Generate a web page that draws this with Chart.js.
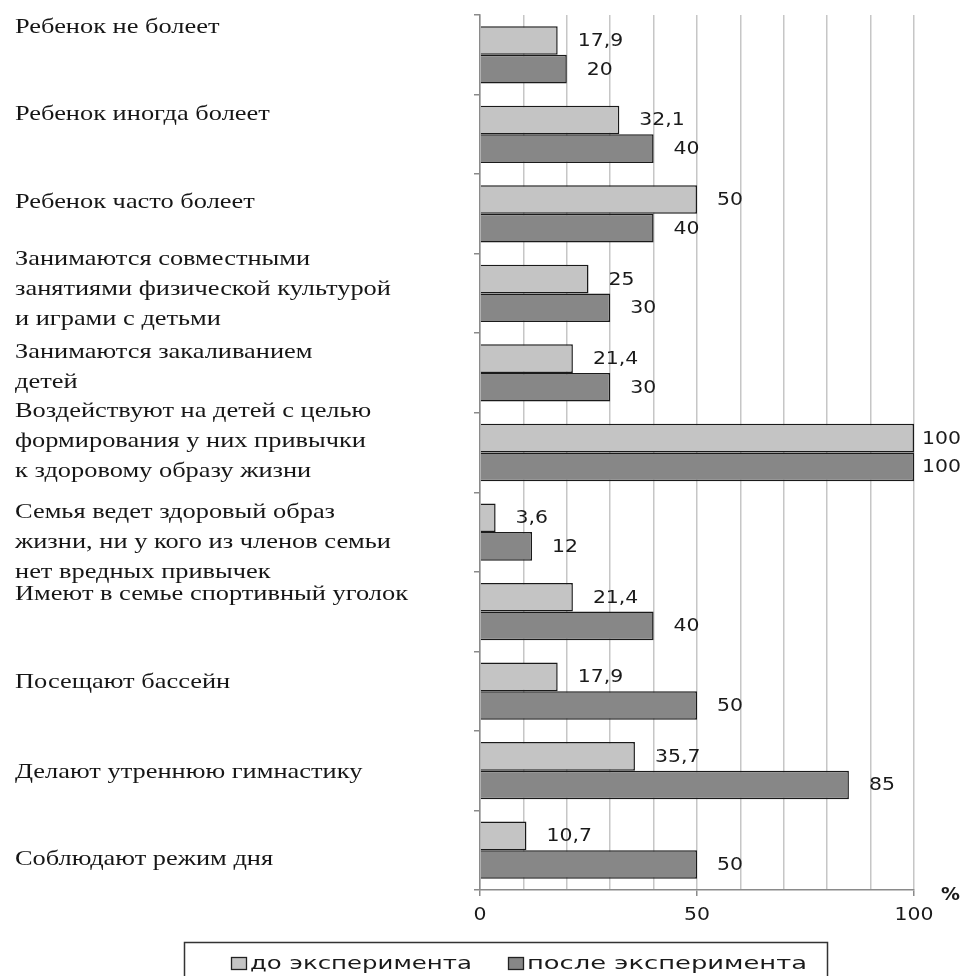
<!DOCTYPE html>
<html lang="ru">
<head>
<meta charset="utf-8">
<script src="https://cdn.jsdelivr.net/npm/chart.js@4/dist/chart.umd.min.js"></script>
<style>
  html, body { margin: 0; padding: 0; background: #fff; }
  #wrap { width: 965px; height: 976px; }
</style>
</head>
<body>
<div id="wrap"><canvas id="bars"></canvas></div>
<script>
// categories (each entry is the lines of one label)
const categories = [
  ["Ребенок не болеет"],
  ["Ребенок иногда болеет"],
  ["Ребенок часто болеет"],
  ["Занимаются совместными", "занятиями физической культурой", "и играми с детьми"],
  ["Занимаются закаливанием", "детей"],
  ["Воздействуют на детей с целью", "формирования у них привычки", "к здоровому образу жизни"],
  ["Семья ведет здоровый образ", "жизни, ни у кого из членов семьи", "нет вредных привычек"],
  ["Имеют в семье спортивный уголок"],
  ["Посещают бассейн"],
  ["Делают утреннюю гимнастику"],
  ["Соблюдают режим дня"]
];
const seriesNames = ["до эксперимента", "после эксперимента"];
const before = [17.9, 32.1, 50, 25, 21.4, 100, 3.6, 21.4, 17.9, 35.7, 10.7];
const after = [20, 40, 40, 30, 30, 100, 12, 40, 50, 85, 50];
const xTicks = [0, 50, 100];

const SANS = "'DejaVu Sans', Verdana, sans-serif";
const SERIF = "'Liberation Serif', 'DejaVu Serif', serif";
const INK = "#1a1a1a";

// vertical shift of each category caption relative to its band centre
const captionShift = [-28, -20, -12, -4, -6, -11, 10, -17, -9, 2, 9];

// text drawn wide, stretched along x only
function wideText(ctx, txt, x, y, sx, align) {
  const w = ctx.measureText(txt).width * sx;
  let left = x;
  if (align === "center") left = x - w / 2;
  else if (align === "right") left = x - w;
  ctx.save();
  ctx.translate(left, y);
  ctx.scale(sx, 1);
  ctx.textAlign = "left";
  ctx.fillText(txt, 0, 0);
  ctx.restore();
  return w;
}

const captions = {
  id: "captions",
  afterDraw(chart) {
    const { ctx } = chart;
    const y = chart.scales.y;
    ctx.save();
    ctx.font = "22px " + SERIF;
    ctx.fillStyle = "#161616";
    ctx.textBaseline = "middle";
    const sx = 393 / ctx.measureText("Имеют в семье спортивный уголок").width;
    categories.forEach((lines, i) => {
      const c = y.getPixelForValue(i) + captionShift[i];
      const top = c - (lines.length - 1) * 15;
      lines.forEach((t, k) => wideText(ctx, t, 15, top + k * 30, sx, "left"));
    });
    ctx.restore();
  }
};

const valueLabels = {
  id: "valueLabels",
  afterDatasetsDraw(chart) {
    const { ctx } = chart;
    ctx.save();
    ctx.font = "17px " + SANS;
    ctx.fillStyle = INK;
    ctx.textBaseline = "middle";
    chart.data.datasets.forEach((ds, d) => {
      chart.getDatasetMeta(d).data.forEach((bar, i) => {
        const txt = String(ds.data[i]).replace(".", ",");
        const w = ctx.measureText(txt).width * 1.2;
        const x = Math.min(bar.x + 20, chart.width - w - 4);
        wideText(ctx, txt, x, bar.y + 1, 1.2, "left");
      });
    });
    ctx.restore();
  }
};

// x tick numbers, the % sign and the framed legend
const axisAndLegend = {
  id: "axisAndLegend",
  afterDraw(chart) {
    const { ctx } = chart;
    const xs = chart.scales.x;
    ctx.save();
    ctx.fillStyle = INK;
    ctx.textBaseline = "middle";
    ctx.font = "17px " + SANS;
    xTicks.forEach(v => wideText(ctx, String(v), xs.getPixelForValue(v), 916, 1.2, "center"));
    ctx.font = "bold 18px " + SANS;
    wideText(ctx, "%", 941, 895, 1.05, "left");

    ctx.strokeStyle = "#333";
    ctx.lineWidth = 1.5;
    ctx.strokeRect(184.5, 942.5, 643, 60);
    ctx.font = "18px " + SANS;
    const slots = [{ x: 231, w: 222 }, { x: 508, w: 280 }];
    chart.data.datasets.forEach((ds, d) => {
      const { x, w } = slots[d];
      ctx.fillStyle = ds.backgroundColor;
      ctx.fillRect(x, 957, 16, 13);
      ctx.strokeStyle = "#222";
      ctx.lineWidth = 1.3;
      ctx.strokeRect(x + 0.5, 957.5, 15, 12);
      ctx.fillStyle = INK;
      const sx = w / ctx.measureText(ds.label).width;
      wideText(ctx, ds.label, x + 19, 964, sx, "left");
    });
    ctx.restore();
  }
};

new Chart(document.getElementById("bars"), {
  type: "bar",
  data: {
    labels: categories.map(l => l.join(" ")),
    datasets: [
      { label: seriesNames[0], data: before, backgroundColor: "#c4c4c4" },
      { label: seriesNames[1], data: after, backgroundColor: "#878787" }
    ]
  },
  options: {
    indexAxis: "y",
    responsive: true,
    maintainAspectRatio: false,
    animation: false,
    layout: { padding: { top: 15, right: 51, left: 0, bottom: 0 } },
    datasets: {
      bar: {
        borderColor: "#1a1a1a",
        borderWidth: 1.5,
        categoryPercentage: 0.72,
        barPercentage: 1
      }
    },
    plugins: {
      legend: { display: false },
      tooltip: { enabled: false }
    },
    scales: {
      x: {
        min: 0,
        max: 100,
        afterFit(s) { s.height = 86; },
        afterBuildTicks(s) {
          s.ticks = [];
          for (let v = 0; v <= 100; v += 10) s.ticks.push({ value: v });
        },
        ticks: { display: false },
        grid: {
          color: "#c6c6c6",
          lineWidth: 1.5,
          tickLength: 6,
          tickColor: c => (xTicks.includes(c.tick.value) ? "#8a8a8a" : "rgba(0,0,0,0)")
        },
        border: { color: "#8a8a8a", width: 1.5 }
      },
      y: {
        afterFit(s) { s.width = 480; },
        ticks: { display: false },
        grid: {
          offset: true,
          drawOnChartArea: false,
          tickLength: 6,
          tickColor: "#8a8a8a",
          lineWidth: 1.5
        },
        border: { color: "#8a8a8a", width: 1.5 }
      }
    }
  },
  plugins: [captions, valueLabels, axisAndLegend]
});
</script>
</body>
</html>
